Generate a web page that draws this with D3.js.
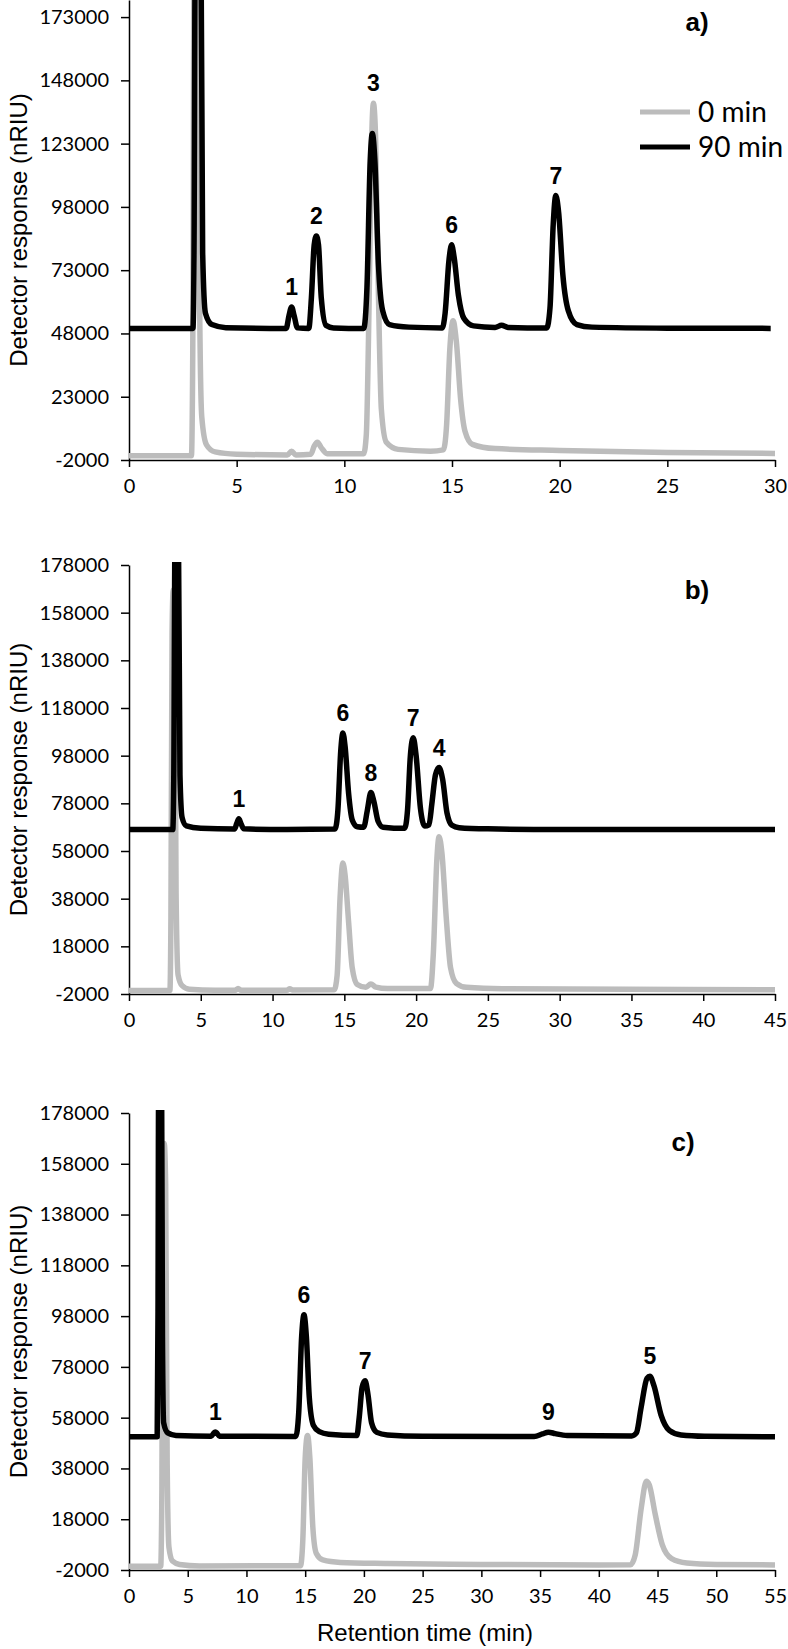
<!DOCTYPE html>
<html>
<head>
<meta charset="utf-8">
<script src="https://cdn.jsdelivr.net/npm/d3@7"></script>
<style>
  body { margin: 0; background: #fff; }
  svg { display: block; }
  .tick text { font-family: Lato, "Open Sans", sans-serif; font-size: 20px; fill: #000; }
  .tick line, .domain { stroke: #000; stroke-width: 1.5px; }
</style>
</head>
<body>
<div id="chart"></div>
<script>
// series: [retention time (min), detector response (nRIU)]
const seriesNames = ["0 min", "90 min"];

const a0min = [[0,-300],[2.9,-300],[2.96,40000],[3.02,190000],[3.2,190000],[3.28,60000],[3.38,15000],[3.6,4000],[4.0,1200],[5,300],[7.35,0],[7.55,1500],[7.75,0],[8.45,300],[8.6,3500],[8.75,5000],[8.92,3000],[9.2,500],[10.9,500],[11.02,8000],[11.15,60000],[11.27,125000],[11.35,139000],[11.45,126000],[11.58,65000],[11.72,18000],[11.95,5000],[12.5,2200],[14,1500],[14.6,2000],[14.75,12000],[14.9,42000],[15.05,53000],[15.2,45000],[15.4,22000],[15.6,9500],[15.95,4200],[17,2500],[20,1800],[25,1000],[30,600]];
const a90min = [[0,50000],[2.97,50000],[3.02,80000],[3.07,190000],[3.35,190000],[3.42,80000],[3.55,56000],[3.85,51500],[4.5,50300],[7.3,50000],[7.43,55000],[7.55,58500],[7.67,55000],[7.82,50200],[8.35,50000],[8.47,62000],[8.6,83000],[8.7,86500],[8.8,83000],[8.93,62000],[9.15,51200],[9.5,50200],[10.9,50000],[11.05,66000],[11.2,116000],[11.3,127000],[11.42,116000],[11.58,76000],[11.78,57000],[12.1,51500],[13,50500],[14.55,50200],[14.68,56000],[14.86,77000],[14.98,83000],[15.1,78000],[15.3,63000],[15.55,54000],[16,51000],[17,50400],[17.3,51200],[17.6,50400],[19.4,50200],[19.55,58000],[19.7,91000],[19.82,102500],[19.95,96000],[20.15,71000],[20.4,57000],[20.8,51500],[21.5,50500],[25,50100],[29.8,50000]];

const b0min = [[0,-500],[2.85,-500],[2.92,30000],[3.0,150000],[3.08,167500],[3.18,150000],[3.28,40000],[3.42,6000],[3.7,1500],[4.2,0],[6,-400],[7.4,-400],[7.6,300],[7.8,-400],[11.0,-400],[11.2,200],[11.4,-300],[14.3,-200],[14.5,6000],[14.7,38000],[14.9,53000],[15.05,48000],[15.3,28000],[15.55,9000],[15.9,2000],[16.5,800],[16.85,2200],[17.2,900],[18,300],[21.0,300],[21.2,15000],[21.45,55000],[21.6,64000],[21.8,57000],[22.1,30000],[22.4,9000],[22.8,2500],[23.5,800],[26,200],[45,-200]];
const b90min = [[0,67000],[3.05,67000],[3.12,90000],[3.2,185000],[3.45,185000],[3.55,90000],[3.7,72000],[4.0,68500],[5,67500],[7.35,67200],[7.5,69500],[7.65,71500],[7.8,69500],[8.0,67300],[11,67000],[14.35,67200],[14.55,75000],[14.75,100000],[14.9,107500],[15.05,102000],[15.3,82000],[15.55,71000],[15.9,68200],[16.35,68000],[16.6,75000],[16.85,82500],[17.05,79000],[17.35,70500],[17.7,68000],[19.2,67500],[19.4,75000],[19.6,98000],[19.8,105500],[20.0,98000],[20.3,76000],[20.6,68500],[20.9,69000],[21.1,78000],[21.35,90000],[21.6,93000],[21.85,88000],[22.15,74000],[22.5,68800],[23,67800],[25,67300],[30,67000],[45,67000]];

const c0min = [[0,-500],[2.7,-500],[2.8,30000],[2.9,150000],[3.0,166000],[3.12,150000],[3.25,40000],[3.4,7000],[3.7,1500],[4.3,200],[6,-400],[14.6,-300],[14.8,10000],[15.0,42000],[15.2,51000],[15.4,42000],[15.65,15000],[15.95,4500],[16.5,2000],[18,1000],[22,600],[30,200],[40,0],[42.7,100],[43.1,4000],[43.6,22000],[44.05,33000],[44.3,31500],[44.8,20000],[45.4,8000],[46.2,2500],[47.5,800],[50,200],[55,0]];
const c90min = [[0,50500],[2.4,50500],[2.47,100000],[2.52,185000],[2.78,185000],[2.85,90000],[2.95,56000],[3.3,52000],[4,51000],[7.0,50700],[7.2,51800],[7.35,52400],[7.5,51800],[7.7,50700],[14.2,50600],[14.45,60000],[14.7,90000],[14.9,98500],[15.1,90000],[15.35,66000],[15.7,55000],[16.2,52500],[17,51500],[19.4,51000],[19.6,58000],[19.85,70000],[20.1,72500],[20.35,67000],[20.65,56000],[21.1,52200],[22,51200],[25,50700],[34.5,50600],[35.2,51600],[35.7,52300],[36.3,51700],[37.3,51000],[42.8,50800],[43.2,52000],[43.6,62000],[44.1,73500],[44.35,74300],[44.7,70500],[45.3,59000],[46,53000],[47,51200],[49,50700],[55,50500]];

// peak labels: [label, time, apex response]
const aPeaks = [["1",7.55,58500],["2",8.7,86500],["3",11.35,139000],["6",14.98,83000],["7",19.82,102500]];
const bPeaks = [["1",7.65,71500],["6",14.9,107500],["8",16.85,82500],["7",19.8,105500],["4",21.6,93000]];
const cPeaks = [["1",7.35,52400],["6",14.9,98500],["7",20.1,72500],["9",35.7,52300],["5",44.35,74300]];

// tick labels
const aYTicks = [-2000, 23000, 48000, 73000, 98000, 123000, 148000, 173000];
const bcYTicks = [-2000, 18000, 38000, 58000, 78000, 98000, 118000, 138000, 158000, 178000];
const aXTicks = [0, 5, 10, 15, 20, 25, 30];
const bXTicks = [0, 5, 10, 15, 20, 25, 30, 35, 40, 45];
const cXTicks = [0, 5, 10, 15, 20, 25, 30, 35, 40, 45, 50, 55];

const colors = { "0 min": "#bcbcbc", "90 min": "#000" };

const svg = d3.select("#chart").append("svg")
    .attr("width", 788)
    .attr("height", 1649);

const panels = [
    { id: "a", tag: "a)", top: 0, bottom: 460, left: 129, right: 775, xMax: 30, yMax: 179750,
      xTicks: aXTicks, yTicks: aYTicks, gray: a0min, black: a90min, peaks: aPeaks, tagX: 697, tagY: 31 },
    { id: "b", tag: "b)", top: 565, bottom: 994, left: 129, right: 775, xMax: 45, yMax: 178000,
      xTicks: bXTicks, yTicks: bcYTicks, gray: b0min, black: b90min, peaks: bPeaks, tagX: 697, tagY: 599 },
    { id: "c", tag: "c)", top: 1113, bottom: 1570, left: 129, right: 775, xMax: 55, yMax: 178000,
      xTicks: cXTicks, yTicks: bcYTicks, gray: c0min, black: c90min, peaks: cPeaks, tagX: 683, tagY: 1151 }
];

panels.forEach(p => {
    const x = d3.scaleLinear().domain([0, p.xMax]).range([p.left, p.right]);
    const y = d3.scaleLinear().domain([-2000, p.yMax]).range([p.bottom, p.top]);

    const g = svg.append("g");

    // clip traces to the plot area
    svg.append("clipPath").attr("id", "clip-" + p.id)
        .append("rect")
        .attr("x", p.left - 10)
        .attr("y", p.top - 3)
        .attr("width", p.right - p.left + 20)
        .attr("height", p.bottom - p.top + 20);

    // Y axis
    g.append("g")
        .attr("transform", `translate(${p.left},0)`)
        .call(d3.axisLeft(y).tickValues(p.yTicks).tickSize(8).tickSizeOuter(0).tickPadding(12)
            .tickFormat(d => String(d)));

    // X axis
    g.append("g")
        .attr("transform", `translate(0,${p.bottom})`)
        .call(d3.axisBottom(x).tickValues(p.xTicks).tickSize(7).tickSizeOuter(0).tickPadding(12)
            .tickFormat(d => String(d)));

    const line = d3.line()
        .x(d => x(d[0]))
        .y(d => y(d[1]))
        .curve(d3.curveMonotoneX);

    const traces = g.append("g").attr("clip-path", `url(#clip-${p.id})`);
    [[p.gray, "0 min"], [p.black, "90 min"]].forEach(([data, name]) => {
        traces.append("path")
            .datum(data)
            .attr("fill", "none")
            .attr("stroke", colors[name])
            .attr("stroke-width", 5.5)
            .attr("stroke-linejoin", "round")
            .attr("d", line);
    });

    // peak numbers
    g.selectAll(".peak-" + p.id)
        .data(p.peaks)
        .enter()
        .append("text")
        .attr("x", d => x(d[1]))
        .attr("y", d => y(d[2]) - 12)
        .attr("text-anchor", "middle")
        .style("font-family", "'Liberation Sans', Arial, sans-serif")
        .style("font-weight", "bold")
        .style("font-size", "23px")
        .text(d => d[0]);

    // panel tag
    g.append("text")
        .attr("x", p.tagX)
        .attr("y", p.tagY)
        .attr("text-anchor", "middle")
        .style("font-family", "'Liberation Sans', Arial, sans-serif")
        .style("font-weight", "bold")
        .style("font-size", "26px")
        .text(p.tag);

    // y axis title
    g.append("text")
        .attr("transform", `translate(27,${(p.top + p.bottom) / 2}) rotate(-90)`)
        .attr("text-anchor", "middle")
        .style("font-family", "'Liberation Sans', Arial, sans-serif")
        .style("font-size", "24px")
        .text("Detector response (nRIU)");
});

// legend (panel a)
const legend = svg.append("g");
seriesNames.forEach((name, i) => {
    const ly = 112 + i * 35;
    legend.append("line")
        .attr("x1", 640).attr("x2", 690)
        .attr("y1", ly).attr("y2", ly)
        .attr("stroke", colors[name])
        .attr("stroke-width", 5);
    legend.append("text")
        .attr("x", 698)
        .attr("y", ly + 10)
        .style("font-family", "Lato, 'Open Sans', sans-serif")
        .style("font-size", "28px")
        .text(name);
});

// x axis title
svg.append("text")
    .attr("x", 425)
    .attr("y", 1641)
    .attr("text-anchor", "middle")
    .style("font-family", "'Liberation Sans', Arial, sans-serif")
    .style("font-size", "24px")
    .text("Retention time (min)");
</script>
</body>
</html>
